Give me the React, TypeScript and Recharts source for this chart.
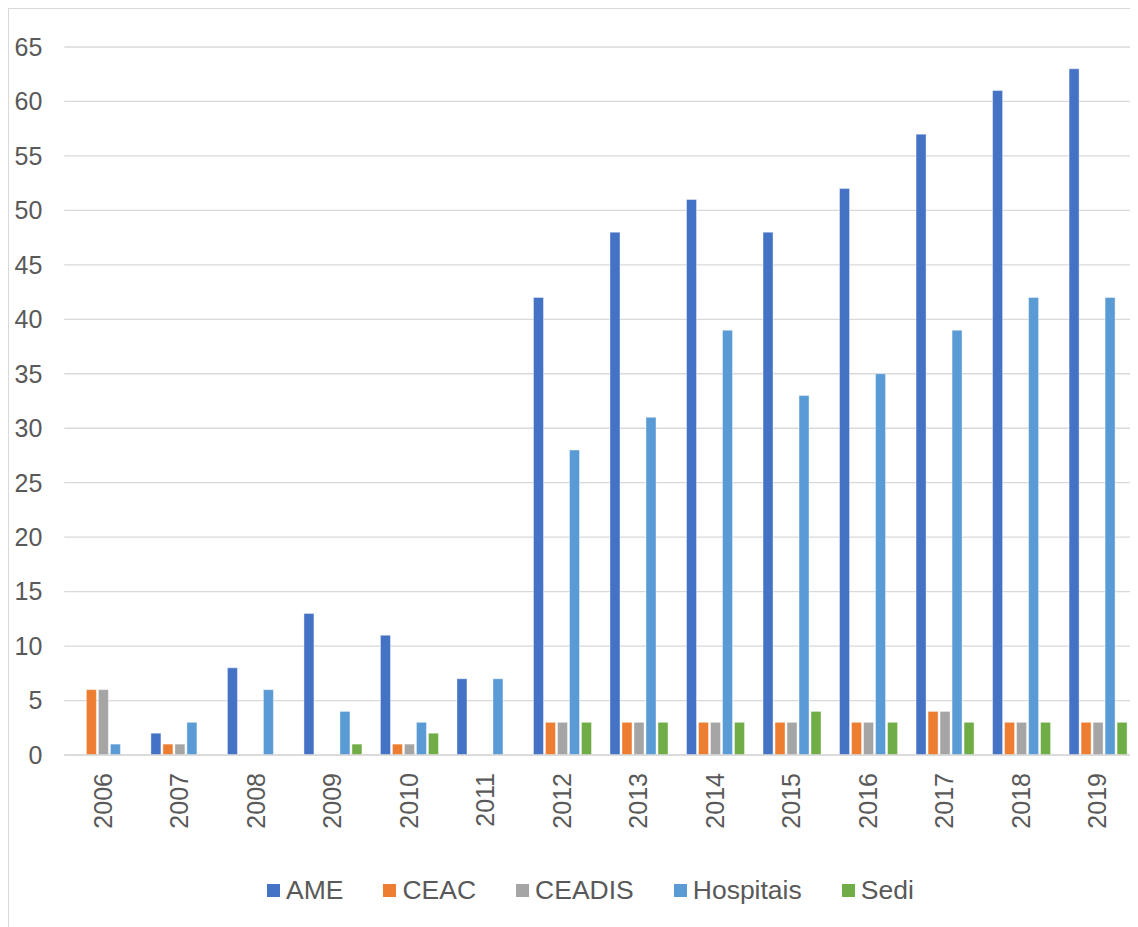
import React from "react";
import { BarChart, Bar, XAxis, YAxis, CartesianGrid, Legend } from "recharts";

const years = ["2006", "2007", "2008", "2009", "2010", "2011", "2012", "2013", "2014", "2015", "2016", "2017", "2018", "2019"];
const ame = [0, 2, 8, 13, 11, 7, 42, 48, 51, 48, 52, 57, 61, 63];
const ceac = [6, 1, 0, 0, 1, 0, 3, 3, 3, 3, 3, 4, 3, 3];
const ceadis = [6, 1, 0, 0, 1, 0, 3, 3, 3, 3, 3, 4, 3, 3];
const hospitais = [1, 3, 6, 4, 3, 7, 28, 31, 39, 33, 35, 39, 42, 42];
const sedi = [0, 0, 0, 1, 2, 0, 3, 3, 3, 4, 3, 3, 3, 3];
const yTicks = [0, 5, 10, 15, 20, 25, 30, 35, 40, 45, 50, 55, 60, 65];

const series = [
  { key: "AME", color: "#4472C4" },
  { key: "CEAC", color: "#ED7D31" },
  { key: "CEADIS", color: "#A5A5A5" },
  { key: "Hospitais", color: "#5B9BD5" },
  { key: "Sedi", color: "#70AD47" },
];

const data = years.map((year, i) => ({
  year,
  AME: ame[i],
  CEAC: ceac[i],
  CEADIS: ceadis[i],
  Hospitais: hospitais[i],
  Sedi: sedi[i],
}));

const FONT = "'Liberation Sans', Arial, sans-serif";
const TEXT = "#595959";

const YearTick = (props: any) => {
  const { x, y, payload } = props;
  const ty = y + 18;
  return (
    <text
      x={x}
      y={ty}
      transform={`rotate(-90, ${x}, ${ty})`}
      textAnchor="end"
      dominantBaseline="central"
      fill={TEXT}
      fontSize={25}
      fontFamily={FONT}
    >
      {payload.value}
    </text>
  );
};

const LegendBox = () => (
  <div
    style={{
      height: 30,
      display: "flex",
      alignItems: "center",
      paddingLeft: 259,
      fontFamily: FONT,
      fontSize: 26.5,
      color: TEXT,
      whiteSpace: "nowrap",
    }}
  >
    {series.map((s) => (
      <span key={s.key} style={{ display: "flex", alignItems: "center", marginRight: 40 }}>
        <span style={{ width: 13, height: 13, background: s.color, marginRight: 6, display: "inline-block" }} />
        {s.key}
      </span>
    ))}
  </div>
);

export default function App() {
  return (
    <div style={{ position: "relative", width: 1130, height: 919, overflow: "hidden" }}>
      <style>{"body{overflow:hidden}"}</style>
      <div
        style={{
          position: "absolute",
          left: 0,
          top: 0,
          width: 1300,
          height: 1100,
          border: "1px solid #d9d9d9",
        }}
      />
      <div style={{ position: "absolute", left: 0, top: 0 }}>
        <BarChart
          width={1127.5}
          height={919}
          data={data}
          margin={{ top: 39, right: 0, left: 0, bottom: 22 }}
          barCategoryGap="13.2%"
          barGap={2}
        >
          <CartesianGrid vertical={false} stroke="#d9d9d9" strokeWidth={1.3} />
          <XAxis
            dataKey="year"
            interval={0}
            height={120}
            tickLine={false}
            tickSize={0}
            tickMargin={0}
            axisLine={{ stroke: "#d9d9d9", strokeWidth: 1.5 }}
            tick={<YearTick />}
          />
          <YAxis
            width={56.3}
            domain={[0, 65]}
            ticks={yTicks}
            interval={0}
            axisLine={false}
            tickLine={false}
            tickSize={0}
            tickMargin={22}
            tick={{ fill: TEXT, fontSize: 25, fontFamily: FONT }}
          />
          <Legend verticalAlign="bottom" wrapperStyle={{ left: 0, width: 1127.5 }} content={<LegendBox />} />
          {series.map((s) => (
            <Bar
              key={s.key}
              dataKey={s.key}
              fill={s.color}
              stroke="#ffffff"
              strokeOpacity={0.5}
              strokeWidth={0.8}
              isAnimationActive={false}
            />
          ))}
        </BarChart>
      </div>
    </div>
  );
}
